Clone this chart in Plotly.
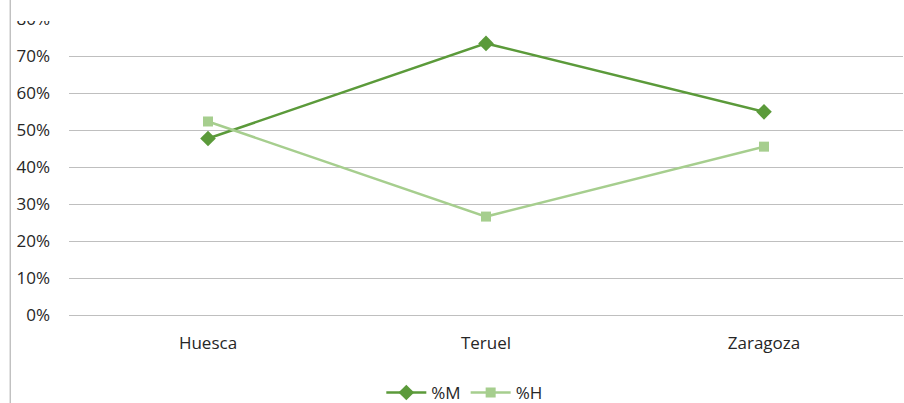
import plotly.graph_objects as go

categories = ["Huesca", "Teruel", "Zaragoza"]
pct_m = [0.477, 0.734, 0.549]
pct_h = [0.523, 0.266, 0.455]
y_ticks = [0, 0.1, 0.2, 0.3, 0.4, 0.5, 0.6, 0.7, 0.8]
y_tick_labels = ["0%", "10%", "20%", "30%", "40%", "50%", "60%", "70%", "80%"]

font_family = "Open Sans, Liberation Sans, sans-serif"
text_color = "#262626"

fig = go.Figure()
fig.add_trace(go.Scatter(
    x=categories, y=pct_m, name="%M", mode="lines+markers",
    line=dict(color="#5B9A3A", width=2.5),
    marker=dict(symbol="diamond", size=12, color="#5B9A3A"),
))
fig.add_trace(go.Scatter(
    x=categories, y=pct_h, name="%H", mode="lines+markers",
    line=dict(color="#A6CE8E", width=2.5),
    marker=dict(symbol="square", size=10, color="#A6CE8E"),
))

fig.update_layout(
    width=904, height=403,
    margin=dict(l=69, r=1, t=19, b=88, autoexpand=False),
    paper_bgcolor="white", plot_bgcolor="white",
    font=dict(family=font_family, size=17, color=text_color),
    showlegend=True,
    legend=dict(orientation="h", x=0.474, xanchor="center", y=0.025, yref="container",
                yanchor="middle", font=dict(size=17, color=text_color), itemwidth=40),
    xaxis=dict(type="category", showgrid=False, showline=False, zeroline=False,
               ticks="", range=[-0.5, 2.5], tickfont=dict(size=17, color=text_color),
               ticklabelstandoff=16, automargin=False),
    yaxis=dict(range=[0, 0.8], tickvals=y_ticks, ticktext=y_tick_labels,
               showgrid=True, gridcolor="#BFBFBF", gridwidth=1,
               zeroline=True, zerolinecolor="#BFBFBF", zerolinewidth=1,
               showline=False, ticks="", automargin=False,
               tickfont=dict(size=17, color=text_color), ticklabelstandoff=18),
    shapes=[
        # white band clipping the top (as in the reference crop)
        dict(type="rect", xref="paper", yref="paper", x0=-0.1, x1=1.01,
             y0=0.9935, y1=1.1, fillcolor="white", line=dict(width=0), layer="above"),
        # left chart-area border
        dict(type="line", xref="paper", yref="paper", x0=-0.0705, x1=-0.0705,
             y0=1.1, y1=-0.32, line=dict(color="#A6A6A6", width=1), layer="above"),
    ],
)

fig.write_html("out.html", config={"displayModeBar": False},
               post_script="document.body.style.margin='0';")
